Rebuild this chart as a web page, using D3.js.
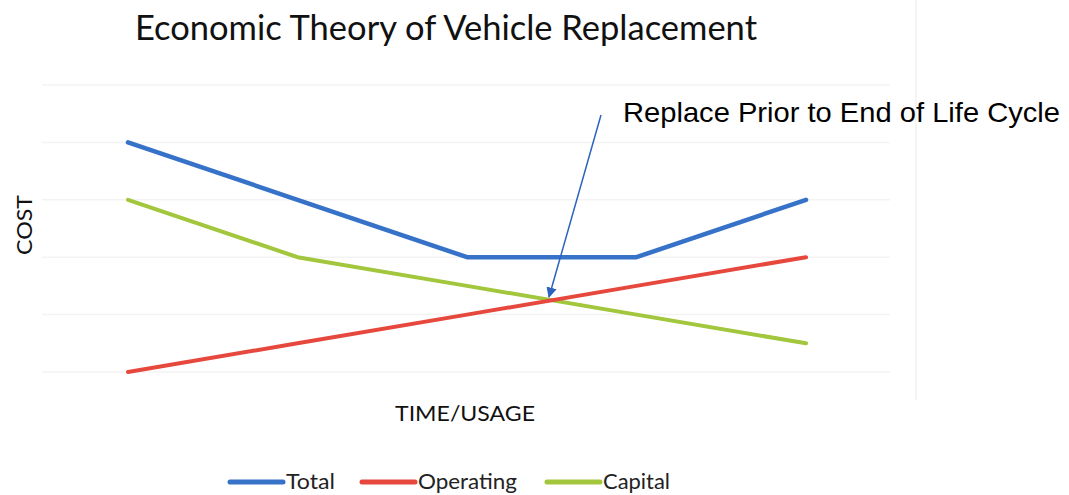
<!DOCTYPE html>
<html>
<head>
<meta charset="utf-8">
<script src="https://cdn.jsdelivr.net/npm/d3@7"></script>
<style>
  body { margin: 0; background: #fff; }
  svg { display: block; }
</style>
</head>
<body>
<svg id="chart"></svg>
<script>
// data
var categories = ["1", "2", "3", "4", "5"];
var total = [4, 3, 2, 2, 3];
var operating = [0, 0.5, 1, 1.5, 2];
var capital = [3, 2, 1.5, 1, 0.5];
var yTicks = [0, 1, 2, 3, 4, 5];

var seriesNames = ["Total", "Operating", "Capital"];
var seriesValues = [total, operating, capital];
var colors = ["#3672c8", "#e6483d", "#a2c63c"];

var svgWidth = 1069, svgHeight = 495;
var svg = d3.select("#chart")
  .attr("width", svgWidth)
  .attr("height", svgHeight);

var xScale = d3.scalePoint()
  .domain(categories)
  .range([128, 806]);

var yScale = d3.scaleLinear()
  .domain([0, 5])
  .range([372, 85]);

// faint gridlines
svg.append("g")
  .selectAll("line")
  .data(yTicks)
  .enter()
  .append("line")
  .attr("x1", 42)
  .attr("x2", 890)
  .attr("y1", function (d) { return yScale(d); })
  .attr("y2", function (d) { return yScale(d); })
  .attr("stroke", "#f3f3f3")
  .attr("stroke-width", 1.5);

// faint right border of the picture
svg.append("line")
  .attr("x1", 916).attr("x2", 916)
  .attr("y1", 0).attr("y2", 400)
  .attr("stroke", "#f5f5f5")
  .attr("stroke-width", 2);

var line = d3.line()
  .x(function (d, i) { return xScale(categories[i]); })
  .y(function (d) { return yScale(d); });

// draw capital, operating, then total on top
[2, 1, 0].forEach(function (k) {
  svg.append("path")
    .datum(seriesValues[k])
    .attr("d", line)
    .attr("fill", "none")
    .attr("stroke", colors[k])
    .attr("stroke-width", k == 0 ? 4.5 : 4)
    .attr("stroke-linejoin", "round")
    .attr("stroke-linecap", "round");
});

var font = "Lato, 'Open Sans', sans-serif";

// title
svg.append("text")
  .text("Economic Theory of Vehicle Replacement")
  .attr("x", 135)
  .attr("y", 40)
  .attr("font-family", font)
  .attr("font-size", 34)
  .attr("textLength", 622)
  .attr("lengthAdjust", "spacingAndGlyphs")
  .attr("fill", "#111");

// axis titles
svg.append("text")
  .text("COST")
  .attr("transform", "translate(32, 225) rotate(-90)")
  .attr("text-anchor", "middle")
  .attr("font-family", font)
  .attr("font-size", 21)
  .attr("textLength", 60)
  .attr("lengthAdjust", "spacingAndGlyphs")
  .attr("fill", "#111");

svg.append("text")
  .text("TIME/USAGE")
  .attr("x", 465)
  .attr("y", 421)
  .attr("text-anchor", "middle")
  .attr("font-family", font)
  .attr("font-size", 21)
  .attr("textLength", 140)
  .attr("lengthAdjust", "spacingAndGlyphs")
  .attr("fill", "#111");

// annotation with arrow
var defs = svg.append("defs");
defs.append("marker")
  .attr("id", "arrow")
  .attr("viewBox", "0 0 10 10")
  .attr("refX", 9)
  .attr("refY", 5)
  .attr("markerWidth", 7)
  .attr("markerHeight", 7)
  .attr("orient", "auto")
  .append("path")
  .attr("d", "M0,0 L10,5 L0,10 z")
  .attr("fill", "#2b63bf");

svg.append("line")
  .attr("x1", 601)
  .attr("y1", 115)
  .attr("x2", 549)
  .attr("y2", 297)
  .attr("stroke", "#2b63bf")
  .attr("stroke-width", 1.5)
  .attr("marker-end", "url(#arrow)");

svg.append("text")
  .text("Replace Prior to End of Life Cycle")
  .attr("x", 623)
  .attr("y", 122)
  .attr("font-family", "'Liberation Sans', Arial, sans-serif")
  .attr("font-size", 28)
  .attr("textLength", 437)
  .attr("lengthAdjust", "spacingAndGlyphs")
  .attr("fill", "#000");

// legend
var legendX = [228, 360, 545];
var legendW = [49, 99, 67];
var legend = svg.append("g")
  .selectAll("g")
  .data(seriesNames)
  .enter()
  .append("g")
  .attr("transform", function (d, i) {
    return "translate(" + legendX[i] + ", 482)";
  });

legend.append("line")
  .attr("x1", 2)
  .attr("x2", 55)
  .attr("y1", 0)
  .attr("y2", 0)
  .attr("stroke", function (d, i) { return colors[i]; })
  .attr("stroke-width", 5)
  .attr("stroke-linecap", "round");

legend.append("text")
  .text(function (d) { return d; })
  .attr("x", 58)
  .attr("y", 7)
  .attr("font-family", font)
  .attr("font-size", 21)
  .attr("textLength", function (d, i) { return legendW[i]; })
  .attr("lengthAdjust", "spacingAndGlyphs")
  .attr("fill", "#222");
</script>
</body>
</html>
